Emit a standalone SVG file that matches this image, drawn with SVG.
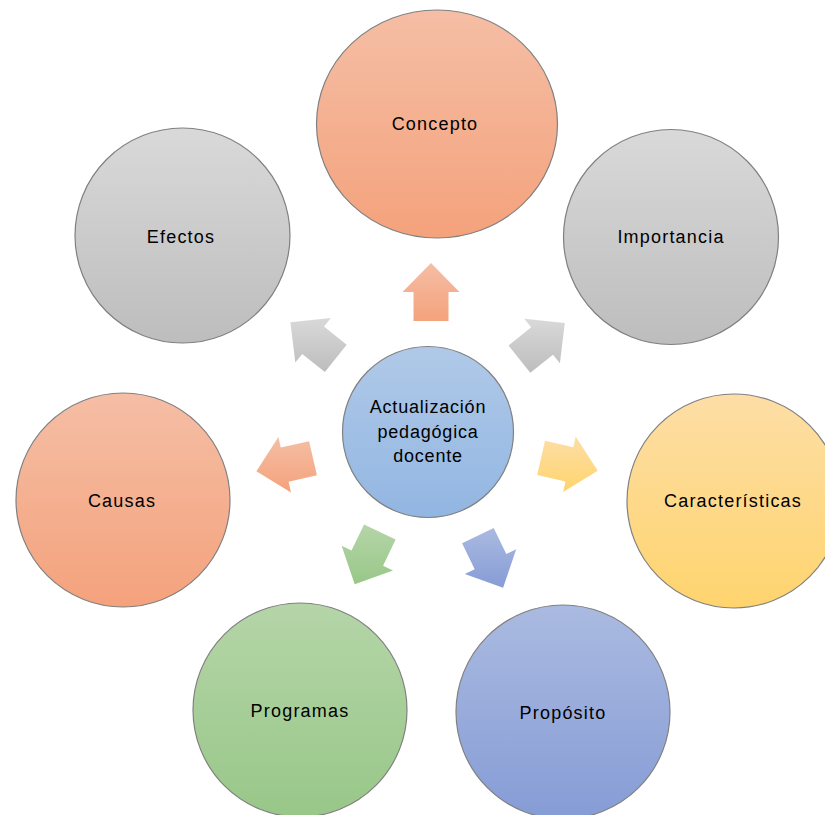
<svg xmlns="http://www.w3.org/2000/svg" width="825" height="815" viewBox="0 0 825 815">
  <defs>
    <linearGradient id="gOrange" x1="0" y1="0" x2="0" y2="1"><stop offset="0" stop-color="#F5BEA5"/><stop offset="1" stop-color="#F4A27C"/></linearGradient>
    <linearGradient id="gGray" x1="0" y1="0" x2="0" y2="1"><stop offset="0" stop-color="#D9D9D9"/><stop offset="1" stop-color="#BDBDBD"/></linearGradient>
    <linearGradient id="gYellow" x1="0" y1="0" x2="0" y2="1"><stop offset="0" stop-color="#FDDEA6"/><stop offset="1" stop-color="#FFD46E"/></linearGradient>
    <linearGradient id="gBlue" x1="0" y1="0" x2="0" y2="1"><stop offset="0" stop-color="#AABAE0"/><stop offset="1" stop-color="#869CD6"/></linearGradient>
    <linearGradient id="gGreen" x1="0" y1="0" x2="0" y2="1"><stop offset="0" stop-color="#B5D5A8"/><stop offset="1" stop-color="#98C788"/></linearGradient>
    <linearGradient id="gCenter" x1="0" y1="0" x2="0" y2="1"><stop offset="0" stop-color="#B0C9E8"/><stop offset="1" stop-color="#92B6E2"/></linearGradient>
  </defs>
  <style>
    .node { stroke: #808080; stroke-width: 1.2; }
    .lbl { font-family: "Liberation Sans", Arial, sans-serif; font-size: 18px; letter-spacing: 1.2px; fill: #000; text-anchor: middle; }
    .arrow { stroke: none; }
  </style>
  <rect width="825" height="815" fill="#FFFFFF"/>

  <g id="connectors">
    <polygon class="arrow" fill="url(#gOrange)" points="431,263 459.5,292 448.5,292 448.5,321 413.5,321 413.5,292 402.5,292"/>
    <polygon class="arrow" fill="url(#gGray)" points="564.8,322.9 559.9,363.3 553.0,354.7 530.3,372.8 508.5,345.4 531.2,327.3 524.3,318.7"/>
    <polygon class="arrow" fill="url(#gYellow)" points="597.7,470.8 563.1,492.1 565.5,481.4 537.2,474.9 545.0,440.8 573.3,447.2 575.7,436.5"/>
    <polygon class="arrow" fill="url(#gBlue)" points="503.1,587.8 464.8,574.1 474.7,569.3 462.1,543.2 493.7,528.0 506.3,554.1 516.2,549.3"/>
    <polygon class="arrow" fill="url(#gGreen)" points="354.7,584.2 341.6,545.7 351.5,550.5 364.1,524.4 395.6,539.6 383.1,565.7 393.0,570.5"/>
    <polygon class="arrow" fill="url(#gOrange)" points="256.4,471.2 278.4,436.9 280.8,447.6 309.1,441.2 316.9,475.3 288.6,481.8 291.0,492.5"/>
    <polygon class="arrow" fill="url(#gGray)" points="290.4,322.2 330.9,318.0 324.0,326.6 346.7,344.7 324.9,372.1 302.2,354.0 295.3,362.6"/>
  </g>

  <g id="center">
    <circle class="node" cx="428" cy="432" r="85.5" fill="url(#gCenter)"/>
    <text class="lbl" x="428" y="413" style="letter-spacing:0.8px">Actualización</text>
    <text class="lbl" x="428" y="438" style="letter-spacing:0.8px">pedagógica</text>
    <text class="lbl" x="428" y="462" style="letter-spacing:0.8px">docente</text>
  </g>

  <g id="concepto">
    <ellipse class="node" cx="437" cy="124" rx="120.5" ry="114" fill="url(#gOrange)"/>
    <text class="lbl" x="435" y="130">Concepto</text>
  </g>

  <g id="importancia">
    <circle class="node" cx="671" cy="237" r="107.5" fill="url(#gGray)"/>
    <text class="lbl" x="671" y="243">Importancia</text>
  </g>

  <g id="caracteristicas">
    <circle class="node" cx="734" cy="501" r="107" fill="url(#gYellow)"/>
    <text class="lbl" x="733" y="507">Características</text>
  </g>

  <g id="proposito">
    <circle class="node" cx="563" cy="712" r="107" fill="url(#gBlue)"/>
    <text class="lbl" x="563" y="719">Propósito</text>
  </g>

  <g id="programas">
    <circle class="node" cx="300" cy="710" r="107" fill="url(#gGreen)"/>
    <text class="lbl" x="300" y="717">Programas</text>
  </g>

  <g id="causas">
    <circle class="node" cx="123" cy="500" r="107" fill="url(#gOrange)"/>
    <text class="lbl" x="122" y="507">Causas</text>
  </g>

  <g id="efectos">
    <circle class="node" cx="182.5" cy="235.5" r="107.5" fill="url(#gGray)"/>
    <text class="lbl" x="181" y="243">Efectos</text>
  </g>
</svg>
